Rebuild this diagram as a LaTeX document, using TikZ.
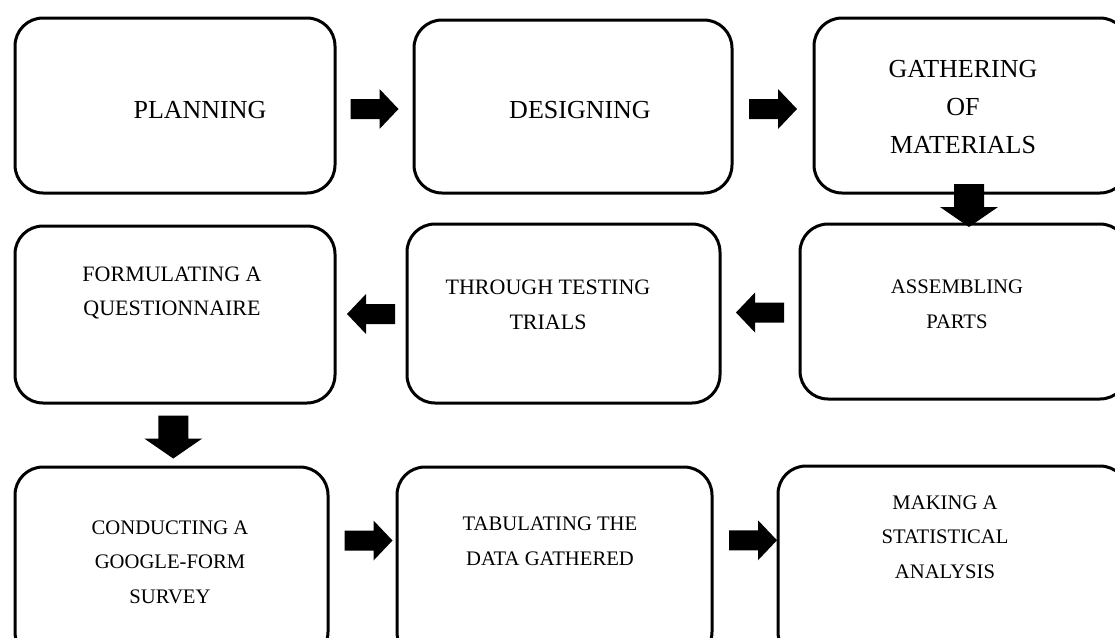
\documentclass[tikz,border=0pt]{standalone}
\usepackage{fontspec}
\setmainfont{Liberation Serif}
\usetikzlibrary{calc}
% one process box, given by its left, top, right and bottom edges
\newcommand\stepnode[5]{%
  \node[stepbox, minimum width={(#4-#2)*0.75pt}, minimum height={(#5-#3)*0.75pt}]
    (#1) at ({(#2+#4)/2},{(#3+#5)/2}) {};}
\begin{document}
\begin{tikzpicture}[x=0.75pt,y=-0.75pt,
  stepbox/.style={draw, line width=2.25pt, rounded corners=21pt, inner sep=0pt},
  bigtext/.style={font=\fontsize{19.5}{28.5}\selectfont, align=center, inner sep=0pt},
  midtext/.style={font=\fontsize{16.5}{26}\selectfont, align=center, inner sep=0pt},
  smalltext/.style={font=\fontsize{15.5}{26}\selectfont, align=center, inner sep=0pt},
  harrow/.pic={\fill (-24,-10) -- (5,-10) -- (5,-20) -- (24,0) -- (5,20) -- (5,10) -- (-24,10) -- cycle;},
  varrow/.pic={\fill (-21.5,-15) -- (1.5,-15) -- (1.5,-29) -- (21.5,0) -- (1.5,29) -- (1.5,15) -- (-21.5,15) -- cycle;}]
\useasboundingbox (0,0) rectangle (1115,637);

% boxes
\stepnode{plan}{15}{18}{335}{193}
\stepnode{design}{414}{20}{732}{193}
\stepnode{gather}{814}{18}{1128}{193}
\stepnode{formq}{15}{226}{335}{403}
\stepnode{trials}{407}{224}{720}{403}
\stepnode{assem}{800}{224}{1128}{399}
\stepnode{survey}{15}{467}{328}{660}
\stepnode{tab}{397}{467}{712}{660}
\stepnode{stat}{778}{466}{1128}{660}

% texts
\node[bigtext] (tplan) at (200,110) {PLANNING};
\node[bigtext] (tdesign) at (580,110) {DESIGNING};
\node[bigtext] (tgather) at (963,107) {GATHERING\\OF\\MATERIALS};
\node[midtext] (tformq) at (172,293) {FORMULATING A\\QUESTIONNAIRE};
\node[midtext] (ttrials) at (548,305) {THROUGH TESTING\\TRIALS};
\node[smalltext] (tassem) at (957,304) {ASSEMBLING\\PARTS};
\node[smalltext] (tsurvey) at (170,562) {CONDUCTING A\\GOOGLE-FORM\\SURVEY};
\node[smalltext] (ttab) at (550,541) {TABULATING THE\\DATA GATHERED};
\node[smalltext] (tstat) at (945,537) {MAKING A\\STATISTICAL\\ANALYSIS};

% block arrows between the boxes
\pic at ($(plan.east)!0.5!(design.west)+(0,3)$) {harrow};
\pic at ($(design.east)!0.5!(gather.west)+(0,3)$) {harrow};
\pic[rotate=-90] at (969,205.5) {varrow};
\pic[rotate=180] at ($(trials.east)!0.5!(assem.west)$) {harrow};
\pic[rotate=180] at ($(formq.east)!0.5!(trials.west)$) {harrow};
\pic[rotate=-90] at ($(formq.south)!0.5!(survey.north)+(0,2)$) {varrow};
\pic at ($(survey.east)!0.5!(tab.west)+(6,-23)$) {harrow};
\pic at ($(tab.east)!0.5!(stat.west)+(8,-23)$) {harrow};
\end{tikzpicture}
\end{document}
